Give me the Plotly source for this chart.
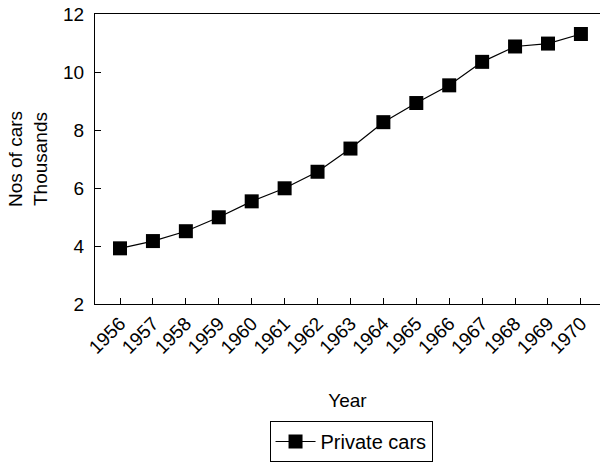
import plotly.graph_objects as go

years = [str(y) for y in range(1956, 1971)]
private_cars = [3.92, 4.17, 4.51, 4.99, 5.54, 5.99, 6.56, 7.36, 8.27, 8.93,
                9.54, 10.35, 10.88, 10.98, 11.31]
y_ticks = [2, 4, 6, 8, 10, 12]

font = dict(family="Liberation Sans, Arial, sans-serif", size=19, color="black")
legend_font = dict(family="Liberation Sans, Arial, sans-serif", size=20, color="black")

fig = go.Figure()
fig.add_trace(go.Scatter(
    x=years, y=private_cars, name="Private cars",
    mode="lines+markers",
    line=dict(color="black", width=1.2),
    marker=dict(symbol="square", size=14, color="black"),
))

fig.update_layout(
    width=600, height=462,
    margin=dict(l=95, r=0, t=14, b=155),
    paper_bgcolor="white", plot_bgcolor="white",
    font=font,
    showlegend=True,
    legend=dict(
        orientation="h", x=0.507, xanchor="center", y=-0.405, yanchor="top",
        bordercolor="black", borderwidth=1, font=legend_font,
        itemwidth=40,
    ),
    xaxis=dict(
        type="category", range=[-0.76, 14.58],
        showline=True, linecolor="black", linewidth=1.2, mirror=True,
        ticks="inside", ticklen=6, tickcolor="black",
        tickangle=-45, showgrid=False, zeroline=False,
        title=dict(text="Year", font=font, standoff=36),
    ),
    yaxis=dict(
        range=[2, 12], tickvals=y_ticks,
        showline=True, linecolor="black", linewidth=1.2,
        ticks="inside", ticklen=6, tickcolor="black",
        ticklabelstandoff=6,
        showgrid=False, zeroline=False,
        title=dict(text="Nos of cars<br>Thousands", font=font, standoff=10),
    ),
)

fig.write_html("out.html")
